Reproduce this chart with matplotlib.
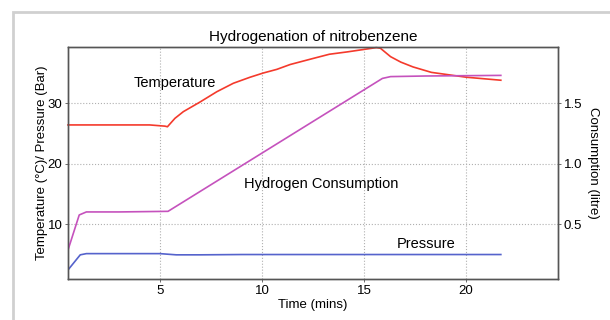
import matplotlib.pyplot as plt
from matplotlib.patches import Rectangle

plt.rcParams['font.family'] = ['Liberation Sans', 'DejaVu Sans']

# temperature (degC), time in mins
t_temp = [0.5, 2.0, 4.5, 5.25, 5.37, 5.74, 6.15, 6.97, 7.79, 8.6, 9.42, 10.07, 10.73, 11.38,
          12.5, 13.3, 14.2, 15.0, 15.6, 15.8, 16.3, 16.8, 17.4, 18.3, 20.0, 21.7]
temp = [26.4, 26.4, 26.4, 26.2, 26.1, 27.5, 28.6, 30.2, 31.9, 33.3, 34.3, 35.0, 35.6, 36.4,
        37.4, 38.1, 38.5, 38.9, 39.2, 39.1, 37.7, 36.8, 36.0, 35.1, 34.3, 33.8]

# hydrogen consumption (litre)
t_h2 = [0.5, 1.05, 1.4, 3.0, 5.4, 15.9, 16.3, 18.0, 21.7]
h2 = [0.285, 0.575, 0.60, 0.60, 0.605, 1.705, 1.72, 1.725, 1.73]

# pressure (bar)
t_pres = [0.5, 1.1, 1.4, 5.0, 5.8, 7.0, 9.0, 21.7]
pres = [2.4, 4.9, 5.1, 5.1, 4.9, 4.9, 4.95, 4.95]

fig = plt.figure(figsize=(6.1, 3.2), dpi=100)
ax = fig.add_axes([68/610, 41/320, 490/610, 232/320])
ax2 = ax.twinx()

ax.plot(t_temp, temp, color='#f43a2c', lw=1.2, clip_on=False)
ax.plot(t_pres, pres, color='#5563cc', lw=1.2)
ax2.plot(t_h2, h2, color='#c552bd', lw=1.2)

ax.set_xlim(0.5, 24.5)
ax.set_ylim(0.9, 39.3)
ax2.set_ylim(0.9/20, 39.3/20)
ax.set_xticks([5, 10, 15, 20])
ax.set_yticks([10, 20, 30])
ax2.set_yticks([0.5, 1.0, 1.5])
ax2.set_yticklabels(['0.5', '1.0', '1.5'])

ax.grid(True, linestyle=':', color='#b0b0b0', lw=0.8)
for a in (ax, ax2):
    a.tick_params(labelsize=9.5, length=2, width=0.6, colors='#555555', labelcolor='black', pad=2)
    for s in a.spines.values():
        s.set_color('#555555')
        s.set_linewidth(1.0)

ax.set_title('Hydrogenation of nitrobenzene', fontsize=11, pad=4)
ax.set_xlabel('Time (mins)', fontsize=9.5, labelpad=2)
ax.set_ylabel('Temperature (°C)/ Pressure (Bar)', fontsize=9.5, labelpad=0)
ax2.set_ylabel('Consumption (litre)', fontsize=9.5, rotation=270, labelpad=12)

ax.text(3.7, 32.7, 'Temperature', fontsize=10.5)
ax.text(9.1, 16.0, 'Hydrogen Consumption', fontsize=10.5)
ax.text(16.6, 6.1, 'Pressure', fontsize=10.5)

fig.patches.append(Rectangle((13/610, -0.1), 1.2, (320 - 12)/320 + 0.1, transform=fig.transFigure,
                             fill=False, edgecolor='#d0d0d0', lw=2))

fig.savefig('out.png', dpi=100)
